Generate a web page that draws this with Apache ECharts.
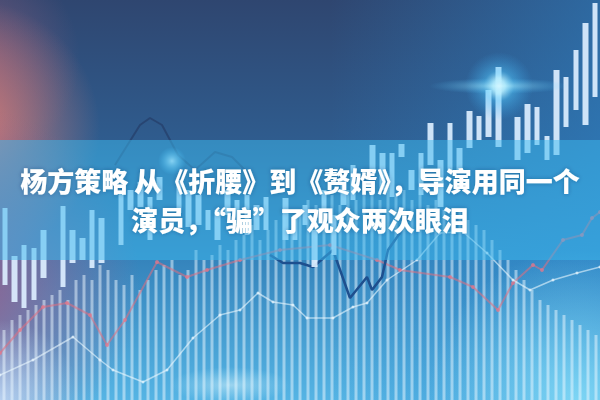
<!DOCTYPE html>
<html>
<head>
<meta charset="utf-8">
<script src="https://cdn.jsdelivr.net/npm/echarts@6/dist/echarts.min.js"></script>
<style>
html,body{margin:0;padding:0;background:#2e4770;}
#c{width:600px;height:400px;
  background:
    radial-gradient(circle 80px at 0px 400px, rgba(215,230,255,0.7), rgba(200,225,255,0)),
    radial-gradient(circle 180px at -40px 285px, rgba(155,95,140,0.95), rgba(150,105,160,0)),
    radial-gradient(circle 130px at -30px 130px, rgba(220,125,118,0.95), rgba(200,110,120,0)),
    radial-gradient(circle 110px at -30px 60px, rgba(150,95,125,0.7), rgba(150,95,125,0)),
    radial-gradient(circle 150px at 578px 400px, rgba(150,235,255,0.7), rgba(100,210,250,0)),
    linear-gradient(to right, rgba(40,130,200,0) 55%, rgba(45,140,210,0.5) 100%),
    linear-gradient(to bottom, #2f4670 0%, #2f5c8e 35%, #3584bc 65%, #55b4e4 100%);
}
</style>
</head>
<body>
<div id="c"></div>
<script>
// ---- Data (values = height above the bottom edge) ----
const titleLine1 = '杨方策略 从《折腰》到《赘婿》，导演用同一个';
const titleLine2 = '演员，“骗”了观众两次眼泪';

// floating candle bodies: [low, high]; null = empty slot
const candleLow  = [115, 98, 92,100,122,null,113,137,140,132,137,null,155,190,193,160,200,null,187,173,175,170,160,185,175,165,170,170,null,160,160,175,133,187,145,195,200,null,227,210,203,243,210,205,235,193,230,230,252,260,263,253,null,240,247,255,240,245,273,290,275,303];
const candleHigh = [192,144,155,152,170,null,194,170,162,190,182,null,207,210,218,203,223,null,220,210,205,190,190,210,200,205,195,203,null,202,185,195,170,210,185,225,235,null,255,247,247,256,230,247,277,240,277,252,289,284,310,333,null,283,296,293,264,330,323,350,377,397];

// thin background columns (heights)
const columnHeights = [70,80,85,90,95,100,105,110,100,120,125,120,135,130,120,115,125,110,120,130,135,140,125,130,150,140,145,155,150,160,165,175,160,170,180,185,170,190,200,195,200,205,195,210,200,205,210,200,215,205,210,200,205,195,200,190,185,190,180,175,170,160,150,140,130,120,110,100,95,90,85,80,75,70,65];

// lines: [x, value]
const redLine = [[0,47],[20,70],[43,93],[67,97],[90,85],[107,55],[125,80],[157,138],[187,123],[207,130],[240,140],[280,150],[330,155],[377,140],[400,130],[450,123],[473,113],[498,90],[513,117],[533,135],[542,130],[563,160],[582,165],[592,182],[600,188]];
const whiteLine = [[0,25],[33,40],[73,63],[100,40],[113,30],[143,18],[167,30],[193,62],[220,85],[240,90],[258,107],[273,98],[293,95],[307,82],[333,82],[353,93],[367,97],[387,120],[417,140],[440,167],[463,168],[487,147],[513,120],[530,110],[553,120],[577,127],[600,133]];
const navyLine = [[270,145],[283,137],[300,137],[313,133],[333,150],[350,102],[367,123],[372,110],[382,123],[388,150],[400,167],[410,185]];
const faintLine = [[115,235],[140,275],[150,282],[162,275],[178,245],[195,230],[215,248],[232,243],[250,225]];

// title band (value range, bottom and top)
const bandRange = [140, 260];

// ---- Build ----
const candleCats = candleLow.map((_, i) => i);
const candleData = candleLow.map((lo, i) => lo == null ? '-' : [lo, candleHigh[i], lo, candleHigh[i]]);
const columnCats = columnHeights.map((_, i) => i);

const chart = echarts.init(document.getElementById('c'), null, {renderer: 'svg', width: 600, height: 400});

function rg(cx, cy, r, stops) { return new echarts.graphic.RadialGradient(cx, cy, r, stops); }
function glow(cx, cy, r, c0, c1) {
  return {type: 'circle', z: 10, silent: true, shape: {cx: cx, cy: cy, r: r},
    style: {fill: rg(0.5, 0.5, 0.5, [{offset: 0, color: c0}, {offset: 1, color: c1}])}};
}

const titleStyle = {color: '#ffffff', fontSize: 27, fontWeight: 900, fontFamily: 'Noto Sans CJK SC', lineHeight: 30,
  textShadowColor: 'rgba(0,40,80,0.35)', textShadowBlur: 4};

const fullGrid = {left: 0, right: 0, top: 0, bottom: 0, containLabel: false};

const option = {
  animation: false,
  backgroundColor: 'transparent',
  grid: [fullGrid, fullGrid, fullGrid],
  xAxis: [
    {type: 'category', data: columnCats, show: false, gridIndex: 0},
    {type: 'category', data: candleCats, show: false, gridIndex: 1},
    {type: 'value', min: 0, max: 600, show: false, gridIndex: 2}
  ],
  yAxis: [
    {type: 'value', min: 0, max: 400, show: false, gridIndex: 0},
    {type: 'value', min: 0, max: 400, show: false, gridIndex: 1},
    {type: 'value', min: 0, max: 400, show: false, gridIndex: 2}
  ],
  title: [
    {text: titleLine1, left: 'center', top: 160, z: 100, textStyle: titleStyle},
    {text: titleLine2, left: 'center', top: 199, z: 100, textStyle: titleStyle}
  ],
  graphic: [
    {type: 'circle', z: 10, shape: {cx: 499, cy: 86, r: 34}, silent: true,
     style: {fill: rg(0.5, 0.5, 0.5, [
       {offset: 0, color: 'rgba(255,255,255,1)'}, {offset: 0.18, color: 'rgba(200,245,255,0.9)'},
       {offset: 0.45, color: 'rgba(80,200,255,0.45)'}, {offset: 1, color: 'rgba(60,170,240,0)'}])}},
    {type: 'ellipse', z: 10, shape: {cx: 499, cy: 86, rx: 70, ry: 8}, silent: true,
     style: {fill: rg(0.5, 0.5, 0.5, [
       {offset: 0, color: 'rgba(180,240,255,0.6)'}, {offset: 1, color: 'rgba(80,200,255,0)'}])}},
    glow(172, 161, 14, 'rgba(230,250,255,0.9)', 'rgba(80,200,255,0)'),
    {type: 'ellipse', z: 10, shape: {cx: 230, cy: 385, rx: 60, ry: 18}, silent: true,
     style: {fill: rg(0.5, 0.5, 0.5, [
       {offset: 0, color: 'rgba(230,250,255,0.5)'}, {offset: 1, color: 'rgba(200,240,255,0)'}])}}
  ],
  series: [
    {type: 'bar', xAxisIndex: 0, yAxisIndex: 0, data: columnHeights, barWidth: 3, silent: true, z: 1,
     itemStyle: {color: 'rgba(235,248,255,0.5)'}},
    {type: 'line', xAxisIndex: 2, yAxisIndex: 2, data: faintLine, silent: true, z: 2, symbol: 'none',
     lineStyle: {color: 'rgba(30,45,85,0.45)', width: 2}},
    {type: 'line', xAxisIndex: 2, yAxisIndex: 2, data: redLine, silent: true, z: 3, symbol: 'circle', symbolSize: 4,
     itemStyle: {color: 'rgba(230,120,140,0.7)'},
     lineStyle: {color: 'rgba(225,110,125,0.55)', width: 2}},
    {type: 'line', xAxisIndex: 2, yAxisIndex: 2, data: whiteLine, silent: true, z: 3, symbol: 'circle', symbolSize: 3,
     itemStyle: {color: 'rgba(235,248,255,0.7)'},
     lineStyle: {color: 'rgba(235,248,255,0.6)', width: 1.5}},
    {type: 'line', xAxisIndex: 2, yAxisIndex: 2, data: navyLine, silent: true, z: 3, symbol: 'none',
     lineStyle: {color: '#1e4f8e', width: 2.5}},
    {type: 'candlestick', xAxisIndex: 1, yAxisIndex: 1, data: candleData, barWidth: 6, silent: true, z: 4,
     itemStyle: {color: 'rgba(220,238,255,0.92)', color0: 'rgba(220,238,255,0.92)',
       borderColor: 'rgba(225,240,255,0.92)', borderColor0: 'rgba(225,240,255,0.92)', borderWidth: 0}},
    {type: 'line', xAxisIndex: 2, yAxisIndex: 2, silent: true, z: 20, symbol: 'none',
     data: [[0, bandRange[1]], [600, bandRange[1]]],
     lineStyle: {width: 0, opacity: 0},
     areaStyle: {origin: bandRange[0], color: 'rgba(60,185,240,0.5)', opacity: 1}}
  ]
};
chart.setOption(option);
</script>
</body>
</html>
